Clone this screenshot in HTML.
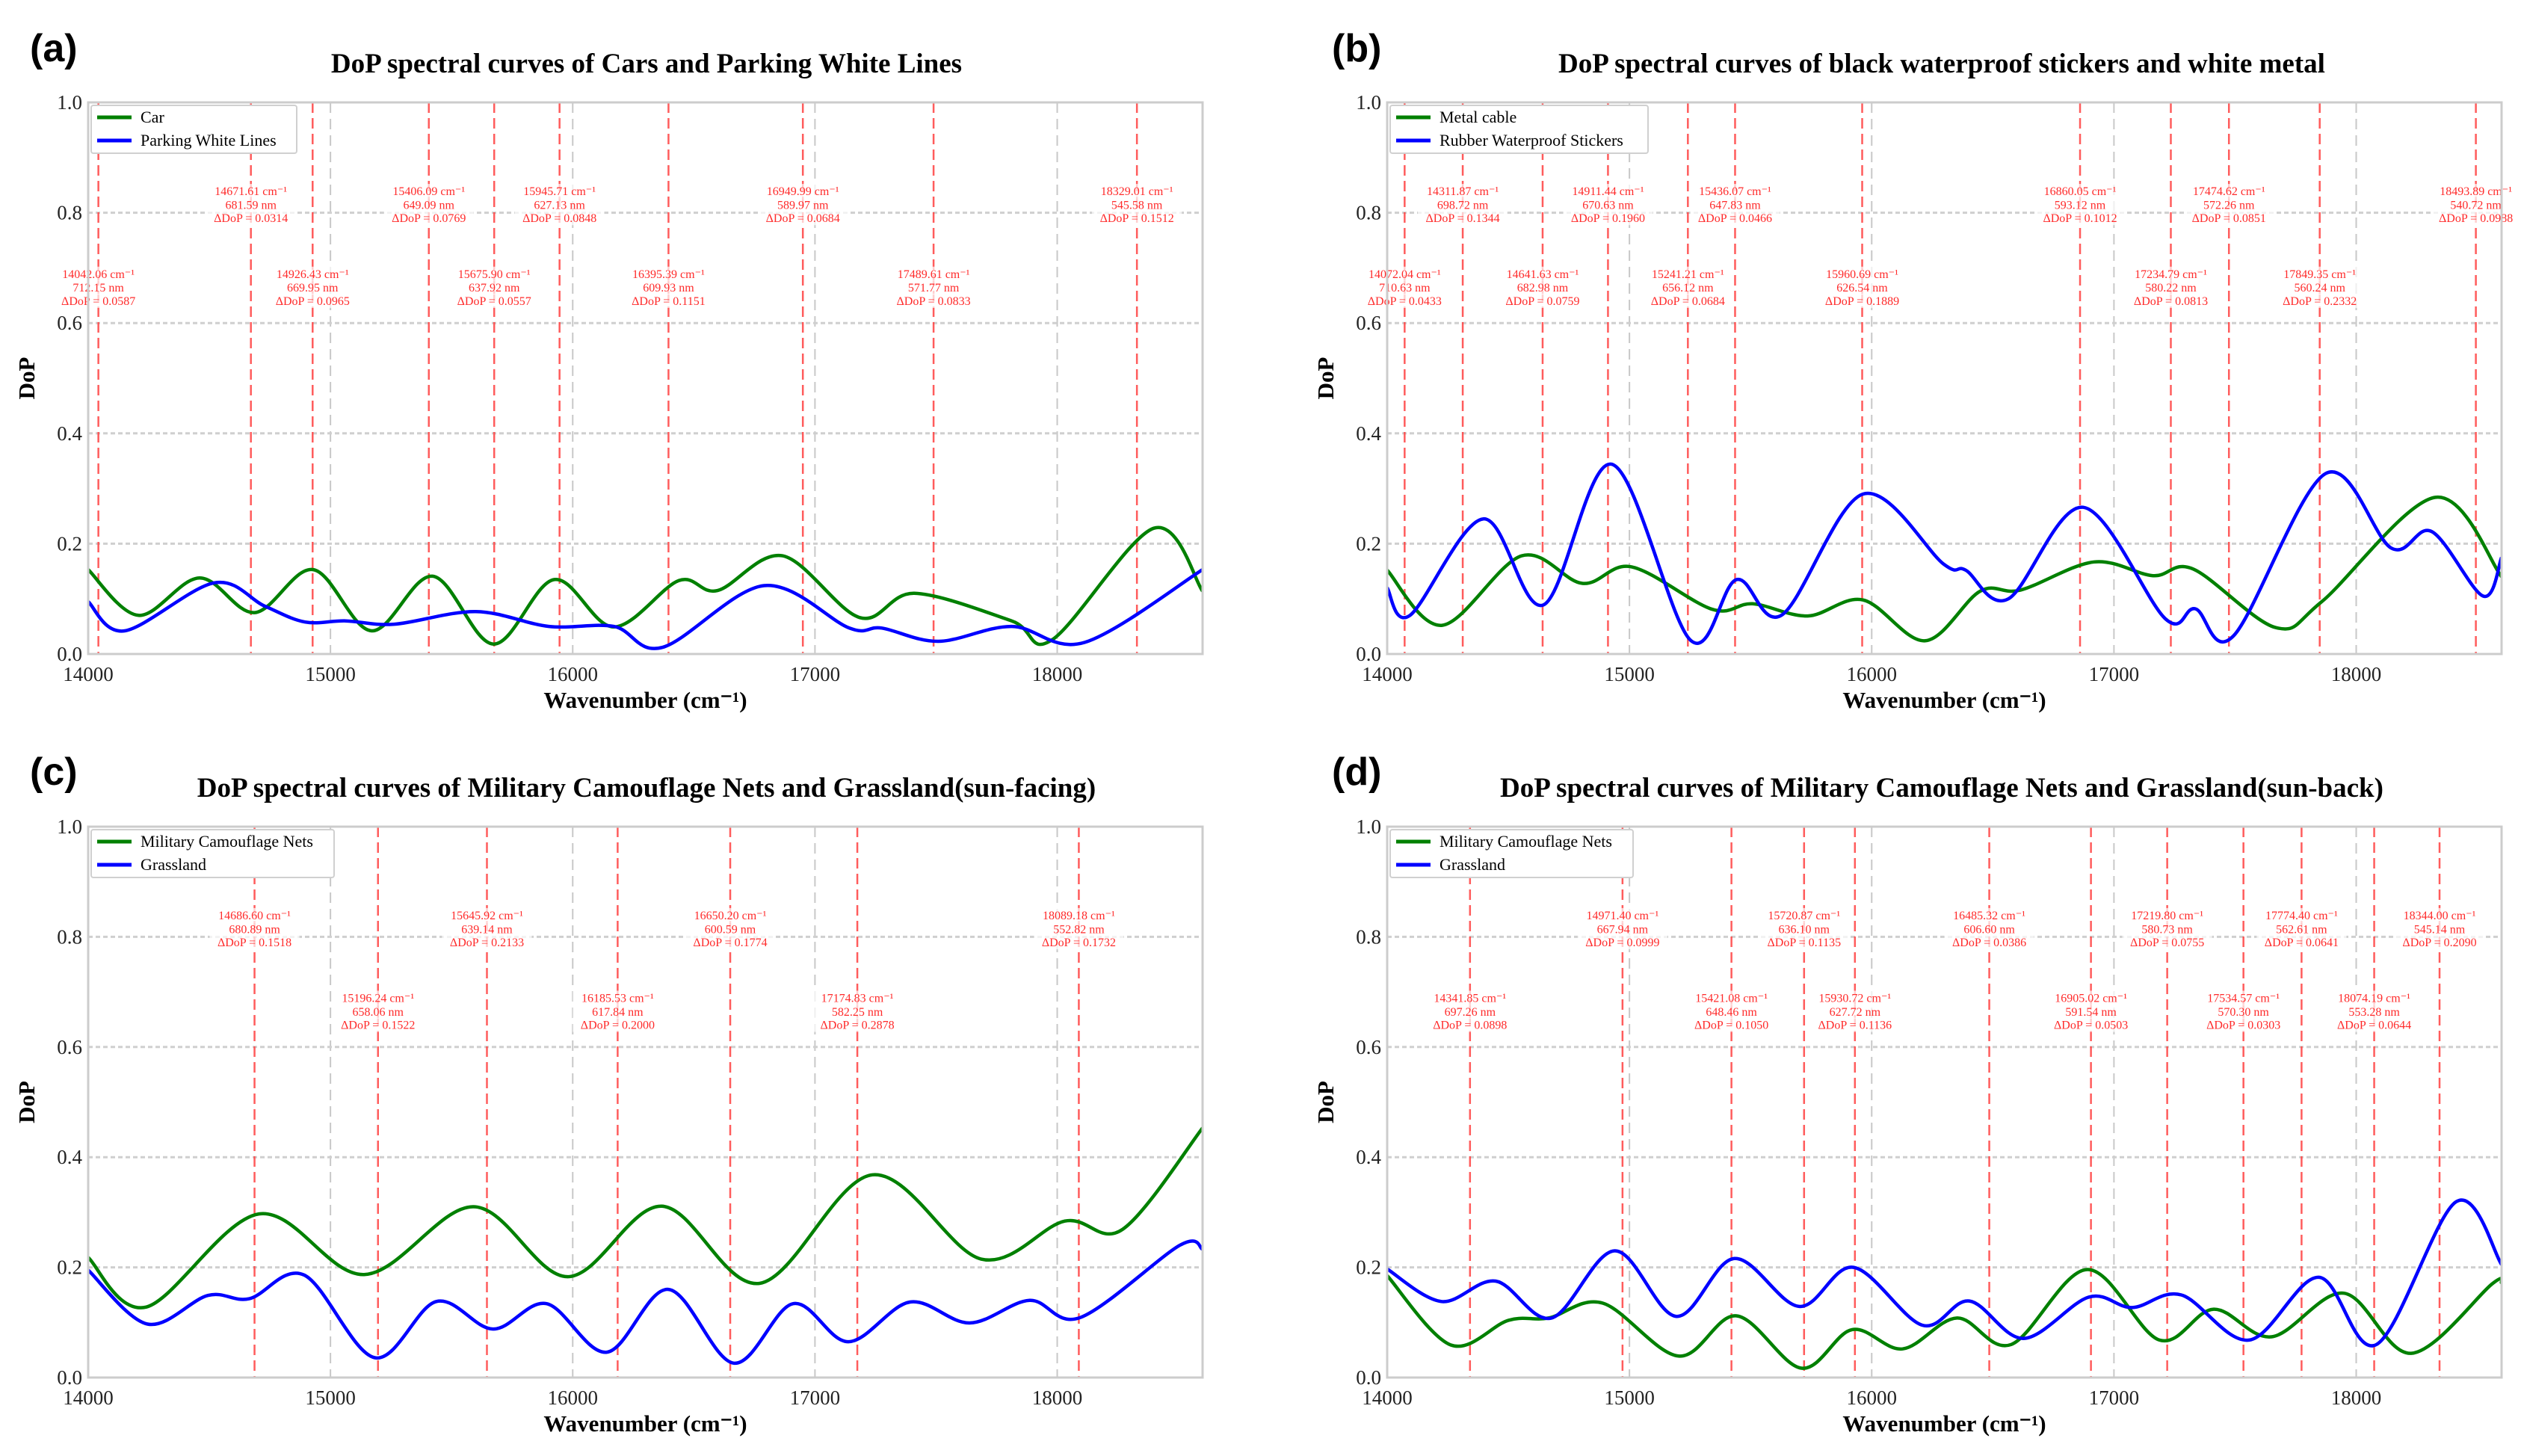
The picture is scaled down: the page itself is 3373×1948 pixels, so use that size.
<!DOCTYPE html>
<html><head><meta charset="utf-8">
<style>
html,body{margin:0;padding:0;background:#fff;}
svg{display:block;}
text{font-family:"Liberation Serif",serif;}
</style></head>
<body>
<svg id="fig" width="3373" height="1948" viewBox="0 0 3373 1948" xmlns="http://www.w3.org/2000/svg"></svg>
<script>
// ---------- data ----------
const xTicks = [14000,15000,16000,17000,18000];
const yTicks = [0.0,0.2,0.4,0.6,0.8,1.0];
const yTickLabels = ["0.0","0.2","0.4","0.6","0.8","1.0"];

const titles = ["DoP spectral curves of Cars and Parking White Lines",
  "DoP spectral curves of black waterproof stickers and white metal",
  "DoP spectral curves of Military Camouflage Nets and Grassland(sun-facing)",
  "DoP spectral curves of Military Camouflage Nets and Grassland(sun-back)"];
const panelLetters = ["(a)","(b)","(c)","(d)"];
const greenNames = ["Car","Metal cable","Military Camouflage Nets","Military Camouflage Nets"];
const blueNames = ["Parking White Lines","Rubber Waterproof Stickers","Grassland","Grassland"];

const greenA = [[14000,0.153],[14208,0.070],[14459,0.138],[14687,0.075],[14929,0.153],[15170,0.042],[15422,0.141],[15673,0.018],[15924,0.135],[16169,0.049],[16438,0.133],[16598,0.115],[16866,0.178],[17185,0.066],[17410,0.110],[17812,0.060],[17980,0.026],[18399,0.228],[18600,0.114]];
const blueA = [[14000,0.095],[14151,0.042],[14520,0.129],[14728,0.087],[14895,0.058],[15063,0.060],[15264,0.054],[15600,0.077],[15902,0.050],[16170,0.050],[16371,0.012],[16790,0.124],[17142,0.047],[17276,0.047],[17510,0.023],[17812,0.050],[18113,0.021],[18600,0.153]];
const greenB = [[14000,0.152],[14227,0.052],[14555,0.178],[14806,0.128],[15009,0.158],[15342,0.081],[15509,0.091],[15736,0.069],[15964,0.098],[16221,0.024],[16448,0.114],[16615,0.116],[16918,0.167],[17161,0.142],[17327,0.154],[17667,0.048],[17858,0.095],[18327,0.284],[18600,0.140]];
const blueB = [[14000,0.120],[14094,0.070],[14397,0.245],[14645,0.089],[14927,0.344],[15252,0.025],[15442,0.135],[15630,0.071],[15964,0.290],[16297,0.163],[16388,0.152],[16564,0.100],[16873,0.266],[17212,0.064],[17336,0.082],[17494,0.033],[17873,0.327],[18145,0.192],[18312,0.222],[18524,0.105],[18600,0.175]];
const greenC = [[14000,0.218],[14240,0.128],[14705,0.297],[15139,0.187],[15590,0.310],[15979,0.183],[16368,0.311],[16772,0.171],[17237,0.368],[17686,0.215],[18031,0.284],[18270,0.269],[18600,0.453]];
const blueC = [[14000,0.195],[14245,0.097],[14494,0.149],[14665,0.143],[14892,0.186],[15183,0.036],[15437,0.138],[15671,0.088],[15892,0.134],[16141,0.046],[16395,0.160],[16665,0.026],[16910,0.134],[17138,0.065],[17392,0.137],[17638,0.099],[17886,0.140],[18096,0.109],[18506,0.240],[18600,0.233]];
const greenD = [[14000,0.185],[14263,0.059],[14501,0.104],[14666,0.108],[14890,0.135],[15203,0.039],[15442,0.112],[15710,0.017],[15919,0.087],[16128,0.052],[16352,0.108],[16576,0.060],[16890,0.196],[17188,0.068],[17412,0.124],[17651,0.074],[17949,0.153],[18227,0.044],[18561,0.170],[18600,0.172]];
const blueD = [[14000,0.197],[14224,0.138],[14448,0.175],[14678,0.108],[14940,0.230],[15194,0.111],[15433,0.216],[15701,0.129],[15925,0.200],[16209,0.095],[16403,0.139],[16627,0.071],[16896,0.146],[17075,0.127],[17278,0.150],[17558,0.068],[17845,0.182],[18084,0.060],[18412,0.319],[18600,0.205]];

// annotations: [wavenumber, wavelength, deltaDoP]
const annA = [[14042.06,712.15,0.0587],[14671.61,681.59,0.0314],[14926.43,669.95,0.0965],[15406.09,649.09,0.0769],[15675.90,637.92,0.0557],[15945.71,627.13,0.0848],[16395.39,609.93,0.1151],[16949.99,589.97,0.0684],[17489.61,571.77,0.0833],[18329.01,545.58,0.1512]];
const annALow = [1,0,1,0,1,0,1,0,1,0];
const annB = [[14072.04,710.63,0.0433],[14311.87,698.72,0.1344],[14641.63,682.98,0.0759],[14911.44,670.63,0.1960],[15241.21,656.12,0.0684],[15436.07,647.83,0.0466],[15960.69,626.54,0.1889],[16860.05,593.12,0.1012],[17234.79,580.22,0.0813],[17474.62,572.26,0.0851],[17849.35,560.24,0.2332],[18493.89,540.72,0.0988]];
const annBLow = [1,0,1,0,1,0,1,0,1,0,1,0];
const annC = [[14686.60,680.89,0.1518],[15196.24,658.06,0.1522],[15645.92,639.14,0.2133],[16185.53,617.84,0.2000],[16650.20,600.59,0.1774],[17174.83,582.25,0.2878],[18089.18,552.82,0.1732]];
const annCLow = [0,1,0,1,0,1,0];
const annD = [[14341.85,697.26,0.0898],[14971.40,667.94,0.0999],[15421.08,648.46,0.1050],[15720.87,636.10,0.1135],[15930.72,627.72,0.1136],[16485.32,606.60,0.0386],[16905.02,591.54,0.0503],[17219.80,580.73,0.0755],[17534.57,570.30,0.0303],[17774.40,562.61,0.0641],[18074.19,553.28,0.0644],[18344.00,545.14,0.2090]];
const annDLow = [1,0,1,0,1,0,1,0,1,0,1,0];

// ---------- rendering ----------
const NS = "http://www.w3.org/2000/svg";
const svg = document.getElementById("fig");
function mk(tag, attrs, parent){
  const e = document.createElementNS(NS, tag);
  for (const k in attrs) e.setAttribute(k, attrs[k]);
  (parent||svg).appendChild(e);
  return e;
}
const X0 = 14000, X1 = 18600;
const panels = [
  {L:118,R:1609,T:137,B:875,green:greenA,blue:blueA,ann:annA,low:annALow,legW:275,titleX:865,letterX:40,letterY:82},
  {L:1856,R:3347,T:137,B:875,green:greenB,blue:blueB,ann:annB,low:annBLow,legW:345,titleX:2598,letterX:1782,letterY:82},
  {L:118,R:1609,T:1106,B:1843,green:greenC,blue:blueC,ann:annC,low:annCLow,legW:325,titleX:865,letterX:40,letterY:1050},
  {L:1856,R:3347,T:1106,B:1843,green:greenD,blue:blueD,ann:annD,low:annDLow,legW:325,titleX:2598,letterX:1782,letterY:1050}
];

function smoothPath(pts, sx, sy){
  const p = pts.map(d=>[sx(d[0]), sy(d[1])]);
  let d = "M"+p[0][0].toFixed(1)+","+p[0][1].toFixed(1);
  for (let i=0;i<p.length-1;i++){
    const p0 = p[Math.max(0,i-1)], p1=p[i], p2=p[i+1], p3=p[Math.min(p.length-1,i+2)];
    const c1x = p1[0]+(p2[0]-p0[0])/6, c1y = p1[1]+(p2[1]-p0[1])/6;
    const c2x = p2[0]-(p3[0]-p1[0])/6, c2y = p2[1]-(p3[1]-p1[1])/6;
    d += " C"+c1x.toFixed(1)+","+c1y.toFixed(1)+" "+c2x.toFixed(1)+","+c2y.toFixed(1)+" "+p2[0].toFixed(1)+","+p2[1].toFixed(1);
  }
  return d;
}

panels.forEach((P, pi) => {
  const sx = v => P.L + (v - X0) / (X1 - X0) * (P.R - P.L);
  const sy = v => P.B - v * (P.B - P.T);
  const g = mk("g", {});
  
  

  const letter = mk("text", {x:P.letterX, y:P.letterY, "font-size":52, "font-weight":"bold", style:"font-family:'Liberation Sans',sans-serif"}, g);
  letter.textContent = panelLetters[pi];
  
  

  const title = mk("text", {x:P.titleX, y:P.T-40, "font-size":37, "font-weight":"bold", "text-anchor":"middle"}, g);
  title.textContent = titles[pi];
  
  

  xTicks.slice(1).forEach(t => {
    const l = mk("line", {x1:sx(t), x2:sx(t), y1:P.T, y2:P.B, stroke:"#c8c8c8", "stroke-width":2, "stroke-dasharray":"14,8"}, g);
    
    
  });
  yTicks.slice(1,-1).forEach(t => {
    const l = mk("line", {x1:P.L, x2:P.R, y1:sy(t), y2:sy(t), stroke:"#cfcfcf", "stroke-width":3, "stroke-dasharray":"6,4"}, g);
    
    
  });

  P.ann.forEach((a, i) => {
    const x = sx(a[0]);
    const vl = mk("line", {x1:x, x2:x, y1:P.T, y2:P.B, stroke:"#ff4040", "stroke-width":2.5, "stroke-dasharray":"14,7", opacity:0.85}, g);
    
    
    const base = P.low[i] ? [0.69,0.665,0.641] : [0.84,0.815,0.791];
    const lines = [a[0].toFixed(2)+" cm\u207B\u00B9", a[1].toFixed(2)+" nm", "\u0394DoP = "+a[2].toFixed(4)];
    lines.forEach((s, k) => {
      const bg = mk("rect", {x:x-60, y:sy(base[k])-9, width:120, height:19, fill:"#fff", opacity:0.7}, g);
      
      
    });
    lines.forEach((s, k) => {
      const t = mk("text", {x:x, y:sy(base[k])+6, "font-size":16, fill:"#ff2a2a", "text-anchor":"middle"}, g);
      t.textContent = s;
      
      
    });
  });

  const cid = "clip"+pi;
  const cp = mk("clipPath", {id:cid}, g);
  mk("rect", {x:P.L, y:P.T, width:P.R-P.L, height:P.B-P.T}, cp);

  const gp = mk("path", {d:smoothPath(P.green, sx, sy), fill:"none", stroke:"#008000", "stroke-width":4.5, "clip-path":"url(#"+cid+")"}, g);
  
  
  const bp = mk("path", {d:smoothPath(P.blue, sx, sy), fill:"none", stroke:"#0000ff", "stroke-width":4.5, "clip-path":"url(#"+cid+")"}, g);
  
  

  const fr = mk("rect", {x:P.L, y:P.T, width:P.R-P.L, height:P.B-P.T, fill:"none", stroke:"#cccccc", "stroke-width":3}, g);
  
  

  xTicks.forEach(t => {
    const tx = mk("text", {x:sx(t), y:P.B+36, "font-size":27, "text-anchor":"middle", fill:"#222"}, g);
    tx.textContent = t;
    
    
  });
  yTicks.forEach((t, k) => {
    const ty = mk("text", {x:P.L-8, y:sy(t)+9, "font-size":27, "text-anchor":"end", fill:"#222"}, g);
    ty.textContent = yTickLabels[k];
    
    
  });

  const xl = mk("text", {x:(P.L+P.R)/2, y:P.B+72, "font-size":31, "font-weight":"bold", "text-anchor":"middle"}, g);
  xl.textContent = "Wavenumber (cm\u207B\u00B9)";
  
  
  const yl = mk("text", {x:0, y:0, "font-size":31, "font-weight":"bold", "text-anchor":"middle", transform:"translate("+(P.L-72)+","+((P.T+P.B)/2)+") rotate(-90)"}, g);
  yl.textContent = "DoP";
  
  

  const lg = mk("g", {}, g);
  
  
  mk("rect", {x:P.L+4, y:P.T+4, width:P.legW, height:64, fill:"#fff", stroke:"#d0d0d0", "stroke-width":2, rx:3}, lg);
  const e1 = mk("line", {x1:P.L+12, x2:P.L+58, y1:P.T+20, y2:P.T+20, stroke:"#008000", "stroke-width":5}, lg);
  
  
  const t1 = mk("text", {x:P.L+70, y:P.T+27, "font-size":22}, lg);
  t1.textContent = greenNames[pi];
  
  
  const e2 = mk("line", {x1:P.L+12, x2:P.L+58, y1:P.T+51, y2:P.T+51, stroke:"#0000ff", "stroke-width":5}, lg);
  
  
  const t2 = mk("text", {x:P.L+70, y:P.T+58, "font-size":22}, lg);
  t2.textContent = blueNames[pi];
  
  
});
</script>
</body></html>
